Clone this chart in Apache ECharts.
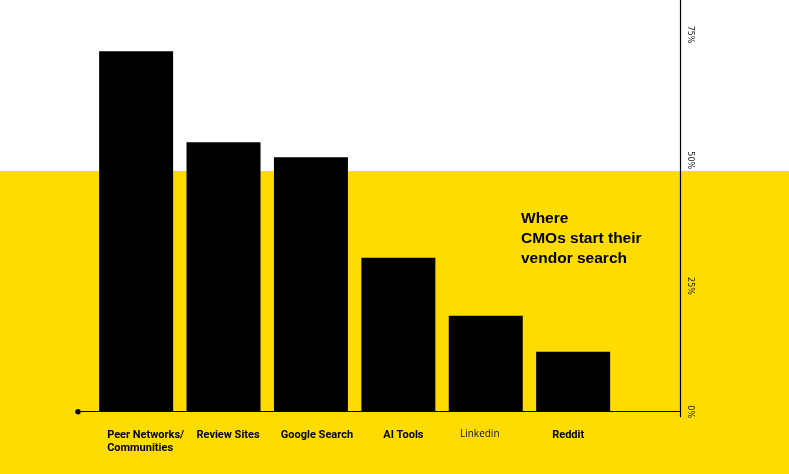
<!DOCTYPE html>
<html>
<head>
<meta charset="utf-8">
<script src="https://cdn.jsdelivr.net/npm/echarts@6/dist/echarts.min.js"></script>
<style>
html,body{margin:0;padding:0;background:#fff;}
#c{width:789px;height:474px;}
</style>
</head>
<body>
<div id="c"></div>
<script>
var categories = ['Peer Networks/\nCommunities', 'Review Sites', 'Google Search', 'AI Tools', 'Linkedin', 'Reddit'];
var values = [71.7, 53.6, 50.6, 30.6, 19.1, 11.9];
var yTicks = [0, 25, 50, 75];
var titleText = 'Where\nCMOs start their\nvendor search';

var chart = echarts.init(document.getElementById('c'));
var barData = values.map(function (v, i) { return [i, v]; });
var labelFont = "Roboto, 'Liberation Sans', sans-serif";
var baseLabel = { fontFamily: labelFont, fontWeight: 'bold', fontSize: 11, lineHeight: 13, color: '#000' };
function st(extra) { return Object.assign({}, baseLabel, extra); }

chart.setOption({
  animation: false,
  backgroundColor: {
    type: 'linear', x: 0, y: 0, x2: 0, y2: 1,
    colorStops: [
      { offset: 0, color: '#ffffff' },
      { offset: 0.3605, color: '#ffffff' },
      { offset: 0.3605, color: '#FFDC00' },
      { offset: 1, color: '#FFDC00' }
    ]
  },
  title: {
    text: titleText,
    left: 521,
    top: 209,
    padding: 0,
    textStyle: {
      fontFamily: "'Liberation Sans', Arial, sans-serif",
      fontWeight: 'bold',
      fontSize: 15.5,
      lineHeight: 20,
      color: '#000'
    }
  },
  grid: { left: 78, right: 108.5, top: 0, bottom: 57.3, containLabel: false },
  xAxis: {
    type: 'value',
    min: -0.665,
    max: 6.228,
    splitLine: { show: false },
    axisTick: { show: false },
    axisLine: {
      show: true,
      onZero: true,
      symbol: ['circle', 'none'],
      symbolSize: [5.5, 5.5],
      lineStyle: { color: '#000', width: 1.2 }
    },
    axisLabel: {
      customValues: [0, 1, 2, 3, 4, 5],
      showMinLabel: true,
      showMaxLabel: true,
      hideOverlap: false,
      margin: 12,
      color: '#000',
      fontFamily: labelFont,
      fontWeight: 'bold',
      fontSize: 11,
      lineHeight: 13,
      formatter: function (v) {
        var i = Math.round(v);
        var name = categories[i];
        return name.split('\n').map(function (s) { return '{c' + i + '|' + s + '}'; }).join('\n');
      },
      rich: {
        c0: st({ width: 58, align: 'left' }),
        c1: st({ padding: [0, 0, 0, 9] }),
        c2: st({ padding: [0, 0, 0, 12] }),
        c3: st({ padding: [0, 0, 0, 10] }),
        c4: { fontFamily: "'Open Sans', 'Liberation Sans', sans-serif", fontWeight: 'normal', fontSize: 10, color: '#111', padding: [0, 12, 3, 0] },
        c5: st({ padding: [0, 10, 0, 0] })
      }
    }
  },
  yAxis: {
    type: 'value',
    position: 'right',
    min: -0.994,
    max: 81.87,
    splitLine: { show: false },
    axisTick: { show: false },
    axisLine: { show: true, onZero: false, lineStyle: { color: '#000', width: 1.2 } },
    axisLabel: {
      customValues: yTicks,
      showMinLabel: true,
      showMaxLabel: true,
      rotate: -90,
      margin: 6,
      fontSize: 8,
      color: '#222',
      fontFamily: "'DejaVu Sans', sans-serif",
      formatter: function (v) { return v + '%'; }
    }
  },
  series: [{
    type: 'bar',
    data: barData,
    barWidth: 74,
    itemStyle: { color: '#000' },
    silent: true
  }]
});
</script>
</body>
</html>
